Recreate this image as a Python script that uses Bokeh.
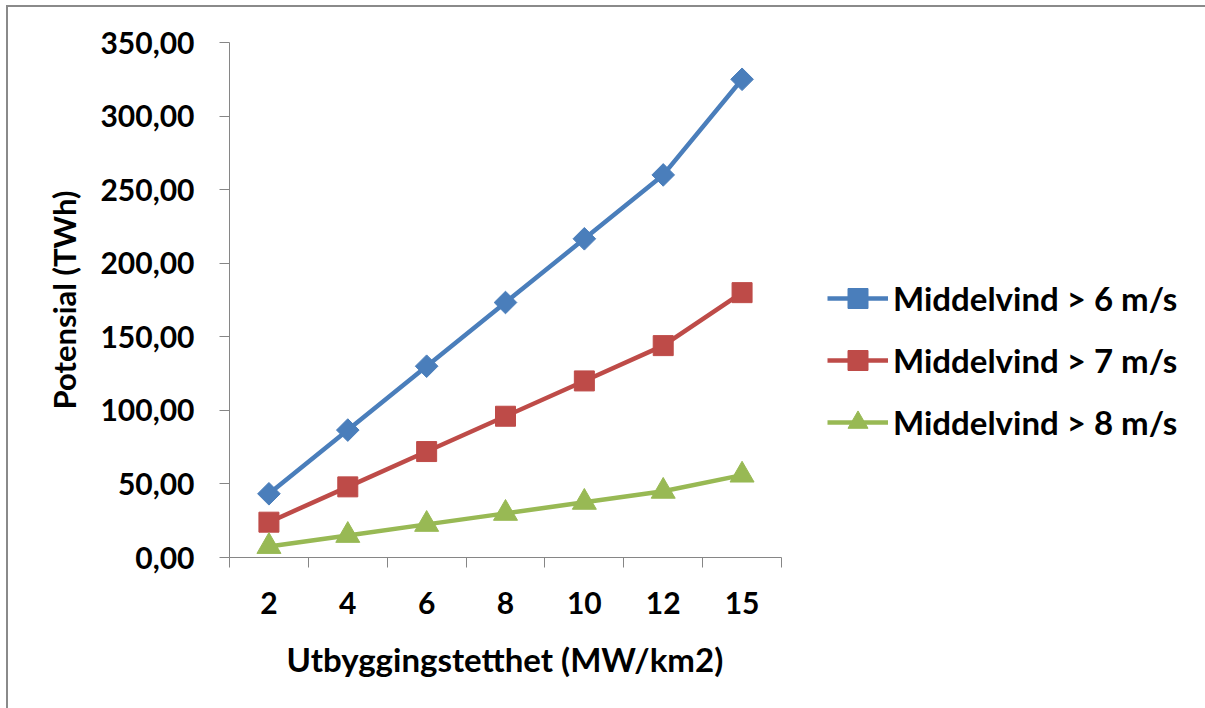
import math
from bokeh.plotting import figure
from bokeh.models import FixedTicker, Legend, LegendItem, Range1d, Title
from bokeh.embed import file_html
from bokeh.resources import INLINE

# ---- data ----
categories = ["2", "4", "6", "8", "10", "12", "15"]
vind_6 = [43.3, 86.6, 130.0, 173.3, 216.6, 260.0, 325.0]
vind_7 = [24.0, 48.0, 72.0, 96.0, 120.0, 144.0, 180.0]
vind_8 = [7.5, 15.0, 22.5, 30.0, 37.5, 45.0, 56.0]
series_names = ["Middelvind > 6 m/s", "Middelvind > 7 m/s", "Middelvind > 8 m/s"]
y_ticks = [0, 50, 100, 150, 200, 250, 300, 350]
x_title = "Utbyggingstetthet (MW/km2)"
y_title = "Potensial (TWh)"

FONT = "Lato"
AXIS_COLOR = "#868686"
BORDER = "#8a8a8a"
colors = ["#4A7EBB", "#BE4B48", "#98B954"]

W, H = 1205, 708
LEFT, TOP, AXIS_W, BOTTOM = 229, 42, 552, 151
n = len(categories)
xs = [i + 0.5 for i in range(n)]

# frame reaches the right edge so the legend (drawn inside the frame) is not clipped;
# the x axis itself is bounded to the category span
x_end = n * (W - LEFT) / AXIS_W
p = figure(width=W, height=H, output_backend="svg", toolbar_location=None,
           x_range=Range1d(0, x_end), y_range=Range1d(0, 350),
           min_border_left=LEFT, min_border_right=0, min_border_top=TOP, min_border_bottom=BOTTOM)
p.outline_line_color = None
p.xgrid.visible = False
p.ygrid.visible = False
p.background_fill_color = "white"
p.border_fill_color = None
# outer chart border: only its top and left edges fall inside the picture
p.styles = {
    "background-color": "white",
    "background-image": f"linear-gradient({BORDER}, {BORDER}), linear-gradient({BORDER}, {BORDER})",
    "background-size": f"{W}px 2px, 2px {H}px",
    "background-position": "6px 5px, 6px 5px",
    "background-repeat": "no-repeat",
}

# x axis: labels at category centres, tick marks between categories
p.xaxis.bounds = (0, n)
p.xaxis.ticker = FixedTicker(ticks=xs, minor_ticks=list(range(n + 1)))
p.xaxis.major_label_overrides = {x: c for x, c in zip(xs, categories)}
p.xaxis.major_tick_out = 0
p.xaxis.major_tick_in = 0
p.xaxis.minor_tick_out = 10
p.xaxis.minor_tick_in = 0
p.xaxis.minor_tick_line_color = AXIS_COLOR
p.xaxis.axis_line_color = AXIS_COLOR
p.xaxis.major_label_standoff = 24

p.yaxis.ticker = FixedTicker(ticks=y_ticks, minor_ticks=[])
p.yaxis.major_label_overrides = {v: f"{v:.2f}".replace(".", ",") for v in y_ticks}
p.yaxis.major_tick_out = 10
p.yaxis.major_tick_in = 0
p.yaxis.major_tick_line_color = AXIS_COLOR
p.yaxis.axis_line_color = AXIS_COLOR
p.yaxis.major_label_standoff = 25
p.yaxis.axis_label = y_title
p.yaxis.axis_label_standoff = 14

for ax in (p.xaxis, p.yaxis):
    ax.major_label_text_font = FONT
    ax.major_label_text_font_style = "bold"
    ax.major_label_text_font_size = "30px"
    ax.major_label_text_color = "black"
    ax.axis_label_text_font = FONT
    ax.axis_label_text_font_style = "bold"
    ax.axis_label_text_color = "black"
p.yaxis.axis_label_text_font_size = "31px"

# x-axis title, centred under the bounded category axis
p.add_layout(Title(text=x_title, align="left", offset=57, standoff=40,
                   text_font=FONT, text_font_style="bold", text_font_size="33px",
                   text_color="black"), "below")

items = []
specs = [(vind_6, "square", 16, math.pi / 4), (vind_7, "square", 20, 0.0), (vind_8, "triangle", 24, 0.0)]
for (vals, marker, size, ang), name, col in zip(specs, series_names, colors):
    ln = p.line(xs, vals, line_color=col, line_width=4.5)
    sc = p.scatter(xs, vals, marker=marker, size=size, angle=ang, fill_color=col, line_color=col)
    items.append(LegendItem(label=name, renderers=[ln, sc]))

legend = Legend(items=items, location=(598, 110), glyph_width=61, glyph_height=50,
                label_height=50, spacing=12, label_standoff=5, padding=0, margin=0,
                border_line_alpha=0, background_fill_alpha=0,
                label_text_font=FONT, label_text_font_style="bold",
                label_text_font_size="33px", label_text_color="black")
p.add_layout(legend, "center")

open("out.html", "w").write(file_html(p, INLINE))
